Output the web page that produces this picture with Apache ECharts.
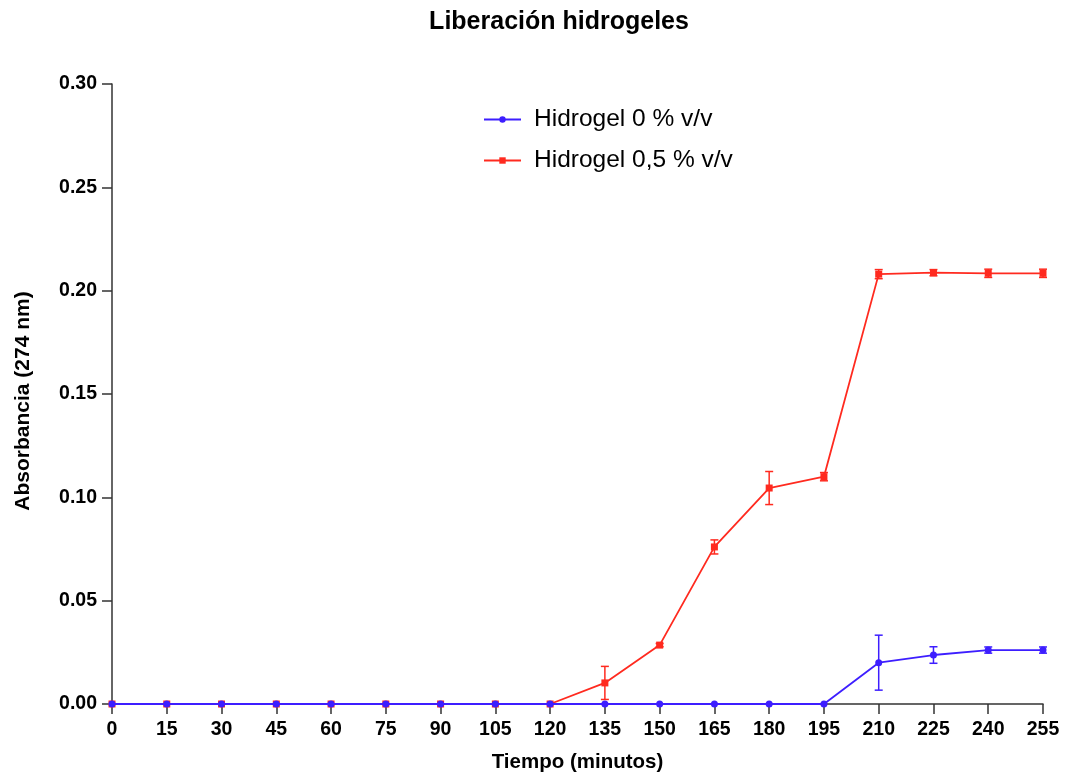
<!DOCTYPE html>
<html><head><meta charset="utf-8">
<script src="https://cdn.jsdelivr.net/npm/echarts@6/dist/echarts.min.js"></script>
<style>html,body{margin:0;padding:0;background:#fff}#c{width:1067px;height:779px}</style>
</head><body><div id="c"></div>
<script>
const times = [0,15,30,45,60,75,90,105,120,135,150,165,180,195,210,225,240,255];
const blueVals = [0,0,0,0,0,0,0,0,0,0,0,0,0,0,0.0200,0.0237,0.0261,0.0261];
const blueErr  = [0,0,0,0,0,0,0,0,0,0,0,0,0,0,0.0133,0.0040,0.0015,0.0015];
const redVals  = [0,0,0,0,0,0,0,0,0,0.0102,0.0285,0.0760,0.1045,0.1100,0.2080,0.2087,0.2084,0.2084];
const redErr   = [0,0,0,0,0,0,0,0,0,0.0080,0.0008,0.0034,0.0080,0.0020,0.0022,0.0015,0.0020,0.0020];
const seriesNames = ['Hidrogel 0 % v/v','Hidrogel 0,5 % v/v'];
const blue = '#3d1eff', red = '#ff2a1f';
const font = 'Liberation Sans, Arial, sans-serif';

function errData(vals, errs){ return times.map((t,i)=>[t, vals[i]-errs[i], vals[i]+errs[i]]); }
function errSeries(vals, errs, color){
  return {
    type:'custom', silent:true, z:3,
    data: errData(vals, errs).filter(d=>d[2]-d[1]>0),
    encode:{x:0,y:[1,2]},
    renderItem:function(params, api){
      const x = api.value(0);
      const lo = api.coord([x, api.value(1)]);
      const hi = api.coord([x, api.value(2)]);
      const w = 4;
      const st = {stroke:color, lineWidth:1.5};
      return {type:'group', children:[
        {type:'line', shape:{x1:lo[0],y1:lo[1],x2:hi[0],y2:hi[1]}, style:st},
        {type:'line', shape:{x1:lo[0]-w,y1:lo[1],x2:lo[0]+w,y2:lo[1]}, style:st},
        {type:'line', shape:{x1:hi[0]-w,y1:hi[1],x2:hi[0]+w,y2:hi[1]}, style:st}
      ]};
    }
  };
}

const chart = echarts.init(document.getElementById('c'));
chart.setOption({
  animation:false,
  title:{text:'Liberación hidrogeles', left:554, top:5, textAlign:'center',
    textStyle:{fontFamily:font, fontWeight:'bold', fontSize:25, color:'#000'}},
  legend:{left:478, top:102, orient:'vertical', itemGap:16, itemWidth:37, itemHeight:8,
    textStyle:{fontFamily:font, fontSize:24.5, color:'#000', padding:[0,0,0,8]},
    data:[seriesNames[0], seriesNames[1]]},
  grid:{left:112, right:24, top:84, bottom:75, containLabel:false},
  xAxis:{type:'value', min:0, max:255, interval:15,
    name:'Tiempo (minutos)', nameLocation:'middle', nameGap:48,
    nameTextStyle:{fontFamily:font, fontWeight:'bold', fontSize:20.5, color:'#000'},
    axisLine:{lineStyle:{color:'#333', width:1.5}},
    axisTick:{show:true, length:10, lineStyle:{color:'#333', width:1.5}},
    axisLabel:{fontFamily:font, fontWeight:'bold', fontSize:19.5, color:'#000', margin:16},
    splitLine:{show:false}},
  yAxis:{type:'value', min:0, max:0.30, interval:0.05,
    name:'Absorbancia (274 nm)', nameLocation:'middle', nameGap:78,
    nameTextStyle:{fontFamily:font, fontWeight:'bold', fontSize:21, color:'#000', padding:[0,14,0,0]},
    axisLine:{show:true, lineStyle:{color:'#333', width:1.5}},
    axisTick:{show:true, length:10, lineStyle:{color:'#333', width:1.5}},
    axisLabel:{fontFamily:font, fontWeight:'bold', fontSize:19.5, color:'#000', margin:15,
      formatter:v=>v.toFixed(2)},
    splitLine:{show:false}},
  series:[
    errSeries(redVals, redErr, red),
    errSeries(blueVals, blueErr, blue),
    {name:seriesNames[1], type:'line', data:times.map((t,i)=>[t,redVals[i]]),
      symbol:'rect', symbolSize:7, showAllSymbol:true, z:4,
      lineStyle:{color:red, width:1.8}, itemStyle:{color:red}},
    {name:seriesNames[0], type:'line', data:times.map((t,i)=>[t,blueVals[i]]),
      symbol:'circle', symbolSize:7, showAllSymbol:true, z:5,
      lineStyle:{color:blue, width:1.8}, itemStyle:{color:blue}}
  ]
});
</script></body></html>
